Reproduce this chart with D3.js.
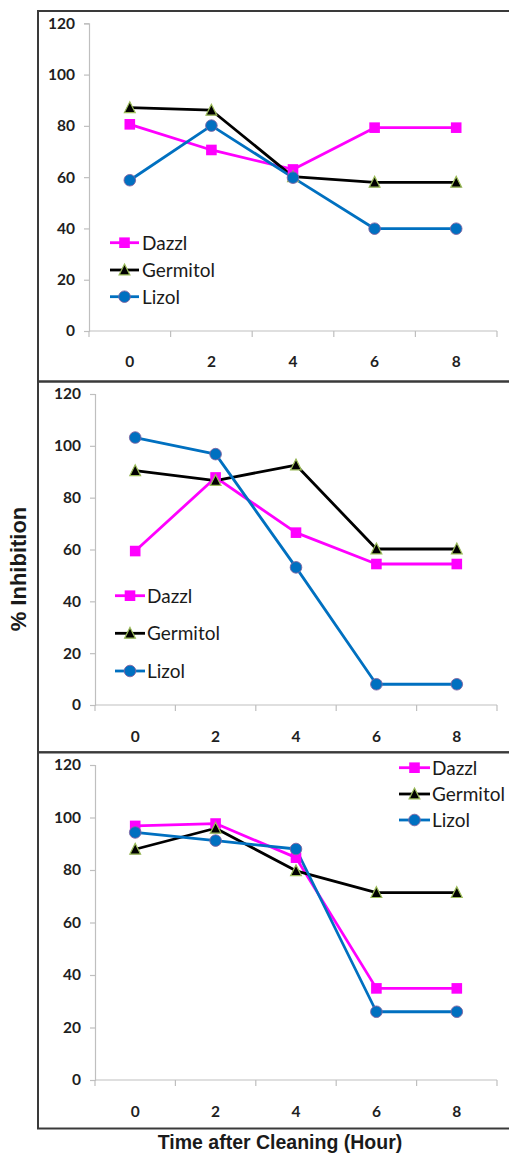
<!DOCTYPE html>
<html>
<head>
<meta charset="utf-8">
<script src="https://cdn.jsdelivr.net/npm/d3@7"></script>
<style>
  html, body { margin: 0; padding: 0; background: #fff; }
  svg { display: block; }
</style>
</head>
<body>
<svg id="chart" width="509" height="1153"></svg>
<script>
// ---------- data ----------
const hours = ["0", "2", "4", "6", "8"];
const yTicks = [0, 20, 40, 60, 80, 100, 120];
const seriesNames = ["Dazzl", "Germitol", "Lizol"];

// panel 1 (top)
const dazzl1    = [80.6, 70.6, 63.0, 79.3, 79.3];
const germitol1 = [87.1, 86.1, 60.2, 58.0, 58.0];
const lizol1    = [58.8, 80.1, 59.8, 39.9, 39.9];
// panel 2 (middle)
const dazzl2    = [59.4, 87.8, 66.5, 54.4, 54.4];
const germitol2 = [90.4, 86.6, 92.6, 60.2, 60.2];
const lizol2    = [103.2, 96.8, 53.1, 8.0, 8.0];
// panel 3 (bottom)
const dazzl3    = [96.8, 97.7, 84.7, 34.9, 34.9];
const germitol3 = [87.9, 95.9, 79.7, 71.4, 71.4];
const lizol3    = [94.3, 91.2, 88.0, 26.0, 26.0];

const yTitle = "% Inhibition";
const xTitle = "Time after Cleaning (Hour)";

// ---------- layout / style ----------
const colors = { Dazzl: "#FF00FF", Germitol: "#000000", Lizol: "#0070C0" };

const panels = [
  { values: [dazzl1, germitol1, lizol1], box: [38, 11, 381.5],
    x0: 89, x1: 497, yTop: 23.3, yBot: 331, tickY: 367,
    legend: { lx0: 110, lx1: 139, tx: 142, ys: [242.7, 270, 296.7] } },
  { values: [dazzl2, germitol2, lizol2], box: [38, 381.5, 752.3],
    x0: 95, x1: 497, yTop: 394, yBot: 705, tickY: 742,
    legend: { lx0: 115, lx1: 145, tx: 147, ys: [595.7, 633.3, 671] } },
  { values: [dazzl3, germitol3, lizol3], box: [38, 752.3, 1128.5],
    x0: 95, x1: 497, yTop: 765, yBot: 1080, tickY: 1117,
    legend: { lx0: 399, lx1: 430, tx: 432, ys: [767.7, 794, 820] } }
];

const svg = d3.select("#chart");
const tickFont = "Lato, 'Noto Sans', sans-serif";

function drawMarker(g, name, cx, cy) {
  if (name === "Dazzl") {
    g.append("rect").attr("x", cx - 5.3).attr("y", cy - 5.3).attr("width", 10.6).attr("height", 10.6)
      .attr("fill", colors.Dazzl);
  } else if (name === "Germitol") {
    const s = 5.4;
    g.append("path")
      .attr("d", `M${cx},${cy - s - 0.5}L${cx + s},${cy + s - 0.5}L${cx - s},${cy + s - 0.5}Z`)
      .attr("fill", "#000").attr("stroke", "#9BBB59").attr("stroke-width", 1.2);
  } else {
    g.append("circle").attr("cx", cx).attr("cy", cy).attr("r", 5.8)
      .attr("fill", colors.Lizol).attr("stroke", "#8064A2").attr("stroke-width", 0.9);
  }
}

panels.forEach(p => {
  const g = svg.append("g");

  // panel border
  g.append("rect")
    .attr("x", p.box[0]).attr("y", p.box[1])
    .attr("width", 520 - p.box[0]).attr("height", p.box[2] - p.box[1])
    .attr("fill", "none").attr("stroke", "#3a3a3a").attr("stroke-width", 2);

  const x = d3.scaleBand().domain(hours).range([p.x0, p.x1]);
  const y = d3.scaleLinear().domain([0, 120]).range([p.yBot, p.yTop]);
  const cx = h => x(h) + x.bandwidth() / 2;

  // y axis
  const ya = g.append("g").attr("transform", `translate(${p.x0},0)`)
    .call(d3.axisLeft(y).tickValues(yTicks).tickSize(5).tickPadding(9).tickFormat(d3.format("d")));
  ya.select(".domain").attr("stroke", "#BFBFBF").attr("stroke-width", 1.2);
  ya.selectAll(".tick line").attr("stroke", "#BFBFBF").attr("stroke-width", 1.2);
  ya.selectAll(".tick text").attr("font-family", tickFont).attr("font-weight", "bold")
    .attr("font-size", "15.5px").attr("fill", "#1f1f1f");

  // x axis line + boundary ticks
  g.append("line").attr("x1", p.x0).attr("x2", p.x1).attr("y1", p.yBot).attr("y2", p.yBot)
    .attr("stroke", "#BFBFBF").attr("stroke-width", 1.2);
  const bounds = hours.map(h => x(h)).concat([p.x1]);
  g.selectAll(".xb").data(bounds).enter().append("line")
    .attr("x1", d => d).attr("x2", d => d).attr("y1", p.yBot).attr("y2", p.yBot + 6)
    .attr("stroke", "#BFBFBF").attr("stroke-width", 1.2);
  g.selectAll(".xl").data(hours).enter().append("text")
    .attr("x", d => cx(d)).attr("y", p.tickY).attr("text-anchor", "middle")
    .attr("font-family", tickFont).attr("font-weight", "bold").attr("font-size", "15.5px")
    .attr("fill", "#1f1f1f").text(d => d);

  // series
  const line = d3.line().x((d, i) => cx(hours[i])).y(d => y(d));
  seriesNames.forEach((name, si) => {
    g.append("path").datum(p.values[si]).attr("d", line)
      .attr("fill", "none").attr("stroke", colors[name]).attr("stroke-width", 2.8)
      .attr("stroke-linejoin", "round");
  });
  seriesNames.forEach((name, si) => {
    p.values[si].forEach((v, i) => drawMarker(g, name, cx(hours[i]), y(v)));
  });

  // legend
  const L = p.legend;
  seriesNames.forEach((name, si) => {
    const ly = L.ys[si];
    g.append("line").attr("x1", L.lx0).attr("x2", L.lx1).attr("y1", ly).attr("y2", ly)
      .attr("stroke", colors[name]).attr("stroke-width", 2.8);
    drawMarker(g, name, (L.lx0 + L.lx1) / 2, ly);
    g.append("text").attr("x", L.tx).attr("y", ly).attr("dy", "0.36em")
      .attr("font-family", tickFont).attr("font-size", "19px").attr("fill", "#1a1a1a")
      .text(name);
  });
});

// axis titles
svg.append("text")
  .attr("transform", "translate(26,569) rotate(-90)")
  .attr("text-anchor", "middle")
  .attr("font-family", "'Liberation Sans', Arial, sans-serif").attr("font-weight", "bold")
  .attr("font-size", "22px").attr("fill", "#1a1a1a")
  .text(yTitle);

svg.append("text")
  .attr("x", 280).attr("y", 1149).attr("text-anchor", "middle")
  .attr("font-family", "'Liberation Sans', Arial, sans-serif").attr("font-weight", "bold")
  .attr("font-size", "19.5px").attr("fill", "#1a1a1a")
  .text(xTitle);
</script>
</body>
</html>
